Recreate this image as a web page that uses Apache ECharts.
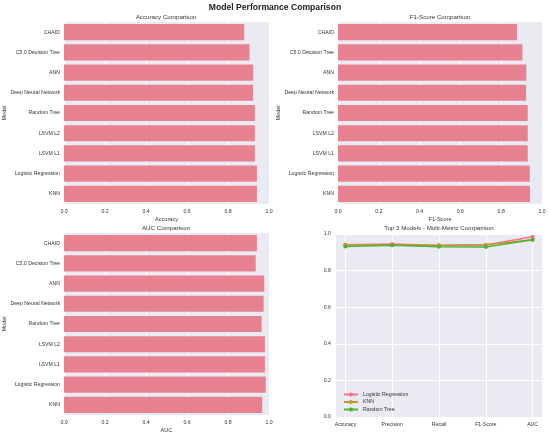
<!DOCTYPE html>
<html>
<head>
<meta charset="utf-8">
<script src="https://cdn.jsdelivr.net/npm/echarts@6/dist/echarts.min.js"></script>
<style>
  html, body { margin: 0; padding: 0; background: #fff; }
  #chart { width: 550px; height: 436px; }
</style>
</head>
<body>
<div id="chart"></div>
<script>
// model names, top to bottom as in the figure
var models = ['CHAID', 'C5.0 Decision Tree', 'ANN', 'Deep Neural Network', 'Random Tree',
              'LSVM L2', 'LSVM L1', 'Logistic Regression', 'KNN'];

var accuracy = [0.879, 0.905, 0.923, 0.922, 0.931, 0.931, 0.931, 0.941, 0.941];
var f1score  = [0.877, 0.904, 0.923, 0.922, 0.930, 0.930, 0.930, 0.940, 0.941];
var auc      = [0.941, 0.935, 0.977, 0.974, 0.964, 0.980, 0.980, 0.984, 0.967];

// top 3 models, multi-metric
var metrics = ['Accuracy', 'Precision', 'Recall', 'F1-Score', 'AUC'];
var lrScores  = [0.941, 0.945, 0.937, 0.940, 0.985];
var knnScores = [0.941, 0.940, 0.938, 0.941, 0.968];
var rtScores  = [0.932, 0.938, 0.931, 0.929, 0.968];

var font = 'Liberation Sans';
var barColor = '#e8818f';
var bg = '#eaeaf2';

var chart = echarts.init(document.getElementById('chart'));

function valueAxis(grid, name) {
    return {
        type: 'value', gridIndex: grid, min: 0, max: 1, interval: 0.2,
        name: name, nameLocation: 'middle', nameGap: 12,
        nameTextStyle: {fontFamily: font, fontSize: 5.6, color: '#333'},
        axisLine: {show: false}, axisTick: {show: false},
        axisLabel: {fontFamily: font, fontSize: 5.2, color: '#333', margin: 5,
                    formatter: function (v) { return v.toFixed(1); }},
        splitLine: {show: true, lineStyle: {color: '#fff', width: 1}}
    };
}

function catAxis(grid) {
    return {
        type: 'category', gridIndex: grid, data: models, inverse: true,
        name: 'Model', nameLocation: 'middle', nameGap: 57, nameRotate: 90,
        nameMoveOverlap: false,
        nameTextStyle: {fontFamily: font, fontSize: 5.6, color: '#333'},
        axisLine: {show: false}, axisTick: {show: false},
        axisLabel: {fontFamily: font, fontSize: 5.2, color: '#333', margin: 4},
        splitLine: {show: false}
    };
}

function barSeries(i, data) {
    return {
        type: 'bar', xAxisIndex: i, yAxisIndex: i, data: data,
        barCategoryGap: '20%', itemStyle: {color: barColor}, silent: true
    };
}

function lineSeries(name, data, color) {
    return {
        name: name, type: 'line', xAxisIndex: 3, yAxisIndex: 3,
        data: data.map(function (v, k) { return [k, v]; }),
        symbol: 'circle', symbolSize: 4,
        lineStyle: {color: color, width: 1.5},
        itemStyle: {color: color}
    };
}

function subTitle(text, x, y) {
    return {text: text, left: x, top: y, textAlign: 'center', padding: 0,
            textStyle: {fontFamily: font, fontSize: 6.2, fontWeight: 'normal', color: '#333'}};
}

var gridBase = {show: true, backgroundColor: bg, borderWidth: 0, containLabel: false};

var option = {
    backgroundColor: '#fff',
    animation: false,
    title: [
        {text: 'Model Performance Comparison', left: 'center', top: 3, padding: 0,
         textStyle: {fontFamily: font, fontSize: 8.6, fontWeight: 'bold', color: '#222'}},
        subTitle('Accuracy Comparison', 166, 13.8),
        subTitle('F1-Score Comparison', 440, 13.8),
        subTitle('AUC Comparison', 166, 225.3),
        subTitle('Top 3 Models - Multi-Metric Comparison', 439, 225.3)
    ],
    grid: [
        Object.assign({left: 64, top: 22, width: 205, height: 182}, gridBase),
        Object.assign({left: 338, top: 22, width: 204, height: 182}, gridBase),
        Object.assign({left: 64, top: 233, width: 205, height: 182}, gridBase),
        Object.assign({left: 336, top: 234, width: 206, height: 183}, gridBase)
    ],
    legend: {
        orient: 'vertical', left: 338, top: 387,
        itemWidth: 14, itemHeight: 5, itemGap: 2.5,
        textStyle: {fontFamily: font, fontSize: 5.2, color: '#333'},
        data: ['Logistic Regression', 'KNN', 'Random Tree']
    },
    xAxis: [
        valueAxis(0, 'Accuracy'),
        valueAxis(1, 'F1-Score'),
        valueAxis(2, 'AUC'),
        {
            type: 'value', gridIndex: 3, min: -0.2, max: 4.2,
            axisLine: {show: false},
            axisTick: {show: false, customValues: [0, 1, 2, 3, 4]},
            axisLabel: {fontFamily: font, fontSize: 5.2, color: '#333', margin: 5,
                        customValues: [0, 1, 2, 3, 4],
                        formatter: function (v) { return metrics[Math.round(v)]; }},
            splitLine: {show: true, lineStyle: {color: '#fff', width: 1}}
        }
    ],
    yAxis: [
        catAxis(0),
        catAxis(1),
        catAxis(2),
        {
            type: 'value', gridIndex: 3, min: 0, max: 1, interval: 0.2,
            axisLine: {show: false}, axisTick: {show: false},
            axisLabel: {fontFamily: font, fontSize: 5.2, color: '#333', margin: 5,
                        formatter: function (v) { return v.toFixed(1); }},
            splitLine: {show: true, lineStyle: {color: '#fff', width: 1}}
        }
    ],
    series: [
        barSeries(0, accuracy),
        barSeries(1, f1score),
        barSeries(2, auc),
        lineSeries('Logistic Regression', lrScores, '#f77189'),
        lineSeries('KNN', knnScores, '#bb9832'),
        lineSeries('Random Tree', rtScores, '#50b131')
    ]
};

chart.setOption(option);
</script>
</body>
</html>
